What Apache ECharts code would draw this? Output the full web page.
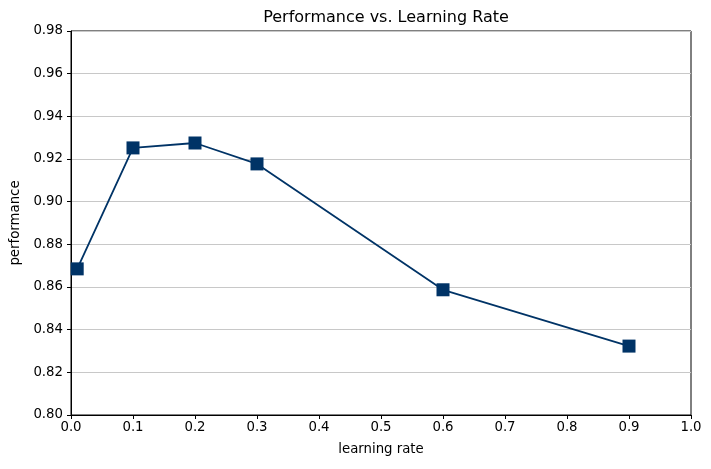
<!DOCTYPE html>
<html>
<head>
    <meta charset="utf-8">
    <title>Performance vs. Learning Rate</title>
    <style>
        body { margin: 0; background: #fff; }
    </style>
</head>
<body>
    <div id="main" style="width: 711px;height:469px;"></div>
    <script src="https://cdn.jsdelivr.net/npm/echarts@6/dist/echarts.min.js"></script>
    <script>
        var myChart = echarts.init(document.getElementById('main'));

        var learningRates = [0.01, 0.1, 0.2, 0.3, 0.6, 0.9];
        var performance = [0.8685, 0.9252, 0.9275, 0.9177, 0.8587, 0.8323];

        var points = learningRates.map(function (x, i) {
            return [x, performance[i]];
        });

        var font = 'DejaVu Sans';

        option = {
            backgroundColor: '#fff',
            animation: false,
            title: {
                text: 'Performance vs. Learning Rate',
                left: 381,
                textAlign: 'center',
                top: 5,
                textStyle: {
                    fontFamily: font,
                    fontSize: 16,
                    fontWeight: 'normal',
                    color: '#000'
                }
            },
            grid: {
                left: 71,
                right: 20,
                top: 31,
                bottom: 54,
                show: true,
                borderColor: '#000',
                borderWidth: 1
            },
            xAxis: {
                type: 'value',
                min: 0,
                max: 1,
                interval: 0.1,
                name: 'learning rate',
                nameLocation: 'middle',
                nameGap: 28,
                nameTextStyle: { fontFamily: font, fontSize: 13.3, color: '#000' },
                axisLine: { lineStyle: { color: '#000' } },
                axisTick: { show: true, length: 4, lineStyle: { color: '#000' } },
                splitLine: { show: false },
                axisLabel: {
                    fontFamily: font,
                    fontSize: 13.3,
                    color: '#000',
                    margin: 6,
                    formatter: function (v) { return v.toFixed(1); }
                }
            },
            yAxis: {
                type: 'value',
                min: 0.8,
                max: 0.98,
                interval: 0.02,
                name: 'performance',
                nameLocation: 'middle',
                nameGap: 45,
                nameTextStyle: { fontFamily: font, fontSize: 13.3, color: '#000' },
                axisLine: { show: true, lineStyle: { color: '#000' } },
                axisTick: { show: true, length: 4, lineStyle: { color: '#000' } },
                splitLine: { show: true, lineStyle: { color: '#c8c8c8', width: 1 } },
                axisLabel: {
                    fontFamily: font,
                    fontSize: 13.3,
                    color: '#000',
                    margin: 8,
                    formatter: function (v) { return v.toFixed(2); }
                }
            },
            series: [{
                type: 'line',
                data: points,
                symbol: 'rect',
                symbolSize: 13,
                lineStyle: { color: '#003366', width: 1.8 },
                itemStyle: { color: '#003366' }
            }]
        };

        myChart.setOption(option);
    </script>
</body>
</html>
